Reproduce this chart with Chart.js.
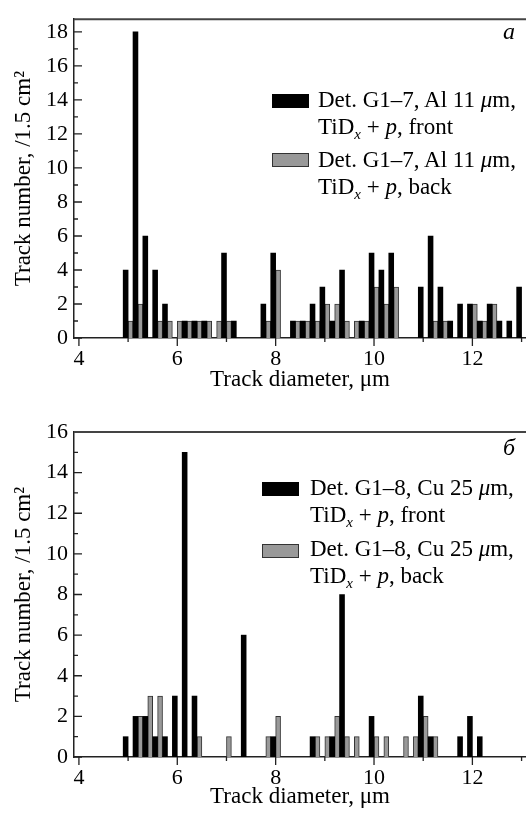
<!DOCTYPE html>
<html>
<head>
  <title>Track diameter histograms</title>
  <script src="https://cdn.jsdelivr.net/npm/chart.js"></script>
  <style>
    body { margin: 0; background: #fff; font-family: "Liberation Serif", serif; }
    .panel { position: absolute; left: 0; width: 526px; }
    .lg { position: absolute; font-size: 23px; line-height: 27px; color: #000; white-space: nowrap; }
    .sw { position: absolute; width: 37px; height: 14px; box-sizing: border-box; }
    .front { background: #000; }
    .back { background: #999; border: 1px solid #333; }
    .tag { position: absolute; font-size: 24px; font-style: italic; }
    sub { font-size: 15px; font-style: italic; vertical-align: -5px; line-height: 0; }
  </style>
</head>
<body>
  <div class="panel" style="top:0; height:400px;"><canvas id="chartA"></canvas></div>
  <div class="panel" style="top:400px; height:417px;"><canvas id="chartB"></canvas></div>

  <div class="tag" style="left:503px; top:18px;">a</div>
  <div class="sw front" style="left:272px; top:94px;"></div>
  <div class="lg" style="left:318px; top:86px;">Det. G1–7, Al 11 <i>μ</i>m,<br>TiD<sub>x</sub> + <i>p</i>, front</div>
  <div class="sw back" style="left:272px; top:153px;"></div>
  <div class="lg" style="left:318px; top:146px;">Det. G1–7, Al 11 <i>μ</i>m,<br>TiD<sub>x</sub> + <i>p</i>, back</div>

  <div class="tag" style="left:503px; top:434px;">б</div>
  <div class="sw front" style="left:262px; top:482px;"></div>
  <div class="lg" style="left:310px; top:474px;">Det. G1–8, Cu 25 <i>μ</i>m,<br>TiD<sub>x</sub> + <i>p</i>, front</div>
  <div class="sw back" style="left:262px; top:544px;"></div>
  <div class="lg" style="left:310px; top:535px;">Det. G1–8, Cu 25 <i>μ</i>m,<br>TiD<sub>x</sub> + <i>p</i>, back</div>

  <script>
    // bin centres, track diameter in um
    const bins = [5.0, 5.2, 5.4, 5.6, 5.8, 6.0, 6.2, 6.4, 6.6, 6.8,
                  7.0, 7.2, 7.4, 7.6, 7.8, 8.0, 8.2, 8.4, 8.6, 8.8,
                  9.0, 9.2, 9.4, 9.6, 9.8, 10.0, 10.2, 10.4, 10.6, 10.8,
                  11.0, 11.2, 11.4, 11.6, 11.8, 12.0, 12.2, 12.4, 12.6, 12.8, 13.0];

    // panel a: Det. G1-7, Al 11 um
    const frontA = [4, 18, 6, 4, 2, 0, 1, 1, 1, 0,
                    5, 1, 0, 0, 2, 5, 0, 1, 1, 2,
                    3, 1, 4, 0, 1, 5, 4, 5, 0, 0,
                    3, 6, 3, 1, 2, 2, 1, 2, 1, 1, 3];
    const backA  = [1, 2, 0, 1, 1, 1, 1, 1, 1, 1,
                    1, 0, 0, 0, 1, 4, 0, 1, 1, 1,
                    2, 2, 1, 1, 1, 3, 2, 3, 0, 0,
                    0, 1, 1, 0, 0, 2, 1, 2, 0, 0, 0];

    // panel b: Det. G1-8, Cu 25 um
    const frontB = [1, 2, 2, 1, 1, 3, 15, 3, 0, 0,
                    0, 0, 6, 0, 0, 1, 0, 0, 0, 1,
                    0, 1, 8, 0, 0, 2, 0, 0, 0, 0,
                    3, 1, 0, 0, 1, 2, 1, 0, 0, 0, 0];
    const backB  = [0, 2, 3, 3, 0, 0, 0, 1, 0, 0,
                    1, 0, 0, 0, 1, 2, 0, 0, 0, 1,
                    1, 2, 1, 1, 0, 1, 1, 0, 1, 1,
                    2, 1, 0, 0, 0, 0, 0, 0, 0, 0, 0];

    const xTicks = [4, 6, 8, 10, 12];
    const xMinor = [5, 7, 9, 11, 13];
    const yTicksA = [0, 2, 4, 6, 8, 10, 12, 14, 16, 18];
    const yMinorA = [1, 3, 5, 7, 9, 11, 13, 15, 17];
    const yTicksB = [0, 2, 4, 6, 8, 10, 12, 14, 16];
    const yMinorB = [1, 3, 5, 7, 9, 11, 13, 15];

    const FONT = "'Liberation Serif', 'Times New Roman', serif";
    Chart.defaults.font.family = FONT;

    // inward y ticks, outward x ticks, top frame line
    const frame = {
      id: 'frame',
      afterDraw(chart, args, opts) {
        const { ctx, chartArea: a, scales: { x, y } } = chart;
        ctx.save();
        ctx.strokeStyle = '#222';
        ctx.lineWidth = 1.3;
        ctx.beginPath();
        xTicks.forEach(v => { const p = x.getPixelForValue(v); ctx.moveTo(p, a.bottom); ctx.lineTo(p, a.bottom + 8); });
        xMinor.forEach(v => { const p = x.getPixelForValue(v); ctx.moveTo(p, a.bottom); ctx.lineTo(p, a.bottom + 4); });
        opts.major.forEach(v => { const p = y.getPixelForValue(v); ctx.moveTo(a.left, p); ctx.lineTo(a.left + 8, p); });
        opts.minor.forEach(v => { const p = y.getPixelForValue(v); ctx.moveTo(a.left, p); ctx.lineTo(a.left + 4, p); });
        ctx.stroke();
        ctx.strokeStyle = '#444';
        ctx.lineWidth = 2;
        ctx.beginPath();
        ctx.moveTo(a.left, a.top);
        ctx.lineTo(a.right, a.top);
        ctx.stroke();
        ctx.restore();
      }
    };

    function makePanel(id, front, back, yMax, yTicks, yMinor, padTop, axisH) {
      new Chart(document.getElementById(id), {
        type: 'bar',
        data: {
          datasets: [
            {
              label: 'front',
              data: bins.map((b, i) => ({ x: b, y: front[i] || null })),
              backgroundColor: '#000',
              borderWidth: 0
            },
            {
              label: 'back',
              data: bins.map((b, i) => ({ x: b, y: back[i] || null })),
              backgroundColor: '#999',
              borderColor: '#333',
              borderWidth: 1
            }
          ]
        },
        options: {
          responsive: true,
          maintainAspectRatio: false,
          animation: false,
          layout: { padding: { top: padTop, right: 0, left: 0, bottom: 0 } },
          datasets: { bar: { barPercentage: 1, categoryPercentage: 1 } },
          plugins: {
            legend: { display: false },
            tooltip: { enabled: false },
            frame: { major: yTicks, minor: yMinor }
          },
          scales: {
            x: {
              type: 'linear',
              min: 3.9,
              max: 13.09,
              offset: false,
              grid: { display: false, drawTicks: false, offset: false },
              border: { display: true, color: '#222', width: 1.5 },
              afterBuildTicks: s => { s.ticks = xTicks.map(v => ({ value: v })); },
              afterFit: s => { s.height = axisH; },
              ticks: { padding: 8, color: '#000', maxRotation: 0, font: { family: FONT, size: 22 } },
              title: {
                display: true, text: 'Track diameter, μm', color: '#000',
                padding: { top: 0, bottom: 9 }, font: { family: FONT, size: 23, lineHeight: 1 }
              }
            },
            y: {
              min: 0,
              max: yMax,
              grid: { display: false, drawTicks: false },
              border: { display: true, color: '#222', width: 1.5 },
              afterBuildTicks: s => { s.ticks = yTicks.map(v => ({ value: v })); },
              afterFit: s => { s.width = 74; },
              ticks: { padding: 6, color: '#000', font: { family: FONT, size: 22 } },
              title: {
                display: true, text: 'Track number, /1.5 cm²', color: '#000',
                padding: { top: 12, bottom: 0 }, font: { family: FONT, size: 23, lineHeight: 1 }
              }
            }
          }
        },
        plugins: [frame]
      });
    }

    makePanel('chartA', frontA, backA, 18.75, yTicksA, yMinorA, 15, 62);
    makePanel('chartB', frontB, backB, 16, yTicksB, yMinorB, 32, 60);
  </script>
</body>
</html>
